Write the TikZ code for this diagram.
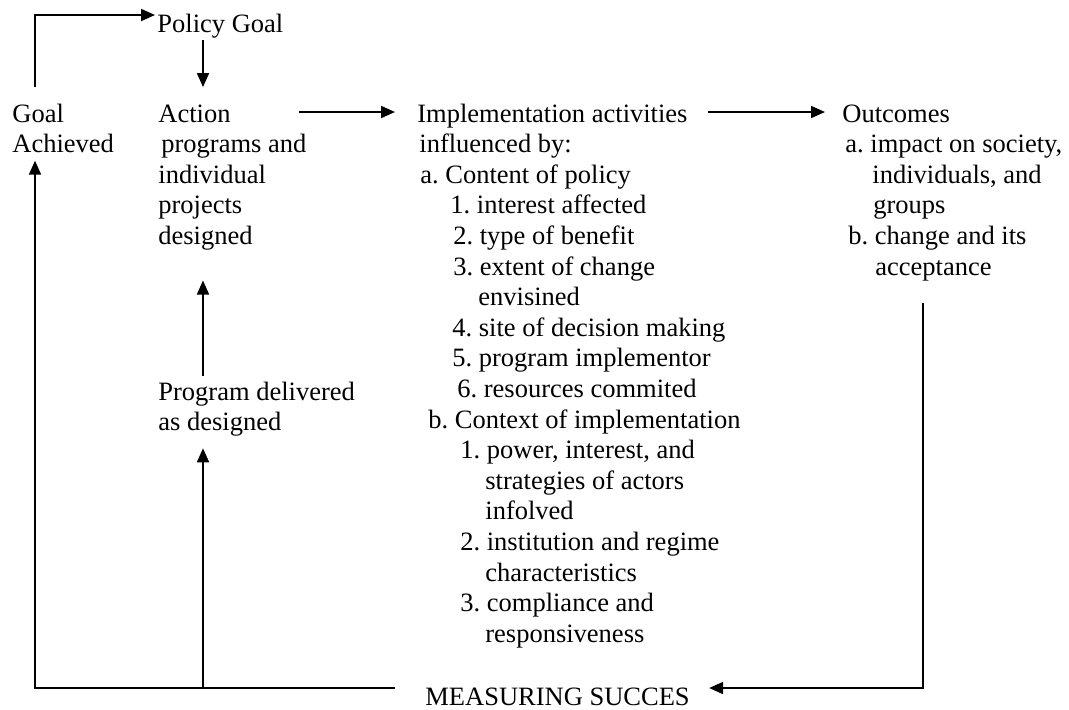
\documentclass[tikz,border=0pt]{standalone}
\usepackage{fontspec}
\setmainfont{Liberation Serif}
\usetikzlibrary{positioning}
\usetikzlibrary{arrows.meta}
\usetikzlibrary{calc}

\begin{document}
\begin{tikzpicture}[
				x=0.5pt, y=-0.5pt,
				txt/.style={inner sep=0pt, anchor=base west, align=left, font=\fontsize{13.25pt}{15.3pt}\selectfont\frenchspacing},
				arrow/.style={-{Triangle[length=7pt, width=6pt]}, line width=0.9pt},
				link/.style={line width=0.9pt}
			]
			\useasboundingbox (0,0) rectangle (1069,709);

			\node[txt] (policy) at (157,32) {Policy Goal};
			\node[txt] (goal) at (12,152.6) {Goal\\Achieved};
			\node[txt] (action) at (158,244.4) {Action\\\hspace*{1.5pt}programs and\\individual\\projects\\designed};
			\node[txt] (delivered) at (158,430.6) {Program delivered\\as designed};
			\node[txt] (impl) at (417,642.2) {Implementation activities\\
				\hspace*{1pt}influenced by:\\
				\hspace*{1.5pt}a. Content of policy\\
				\hspace*{16.5pt}1. interest affected\\
				\hspace*{18pt}2. type of benefit\\
				\hspace*{18pt}3. extent of change\\
				\hspace*{30.5pt}envisined\\
				\hspace*{17.5pt}4. site of decision making\\
				\hspace*{17.5pt}5. program implementor\\
				\hspace*{20pt}6. resources commited\\
				\hspace*{5.5pt}b. Context of implementation\\
				\hspace*{21.5pt}1. power, interest, and\\
				\hspace*{34pt}strategies of actors\\
				\hspace*{34pt}infolved\\
				\hspace*{21.5pt}2. institution and regime\\
				\hspace*{34pt}characteristics\\
				\hspace*{21.5pt}3. compliance and\\
				\hspace*{34pt}responsiveness};
			\node[txt] (outcomes) at (842,275) {Outcomes\\
				\hspace*{1.5pt}a. impact on society,\\
				\hspace*{15pt}individuals, and\\
				\hspace*{15.5pt}groups\\
				\hspace*{3pt}b. change and its\\
				\hspace*{16.5pt}acceptance};
			\node[txt] (measure) at (425,705) {MEASURING SUCCES};

			\coordinate (row) at (0,112);
			\coordinate (lcol) at (35,15);
			\coordinate (bl) at (35,688);
			\coordinate (bm) at (203,688);
			\coordinate (br) at (923,688);
			\coordinate (rtop) at (923,303);

			\draw[arrow, shorten <=8pt, shorten >=1pt] (goal.north -| lcol) -- (lcol) -- (policy.west |- lcol);
			\draw[arrow, shorten <=1pt, shorten >=8.5pt] (policy.south -| bm) -- (action.north -| bm);
			\draw[arrow, shorten <=-4pt, shorten >=11pt] (action.east |- row) -- (impl.west |- row);
			\draw[arrow, shorten <=-16.5pt, shorten >=8.5pt] (impl.east |- row) -- (outcomes.west |- row);
			\draw[arrow, shorten <=2.5pt, shorten >=15pt] (delivered.north -| bm) -- (action.south -| bm);
			\draw[arrow, shorten >=5.8pt] (bm) -- (delivered.south -| bm);
			\draw[arrow, shorten <=15pt, shorten >=3.7pt] (measure.west |- bl) -- (bl) -- (goal.south -| bl);
			\draw[arrow, shorten >=9.5pt] (rtop) -- (br) -- (measure.east |- br);

		\end{tikzpicture}
\end{document}
